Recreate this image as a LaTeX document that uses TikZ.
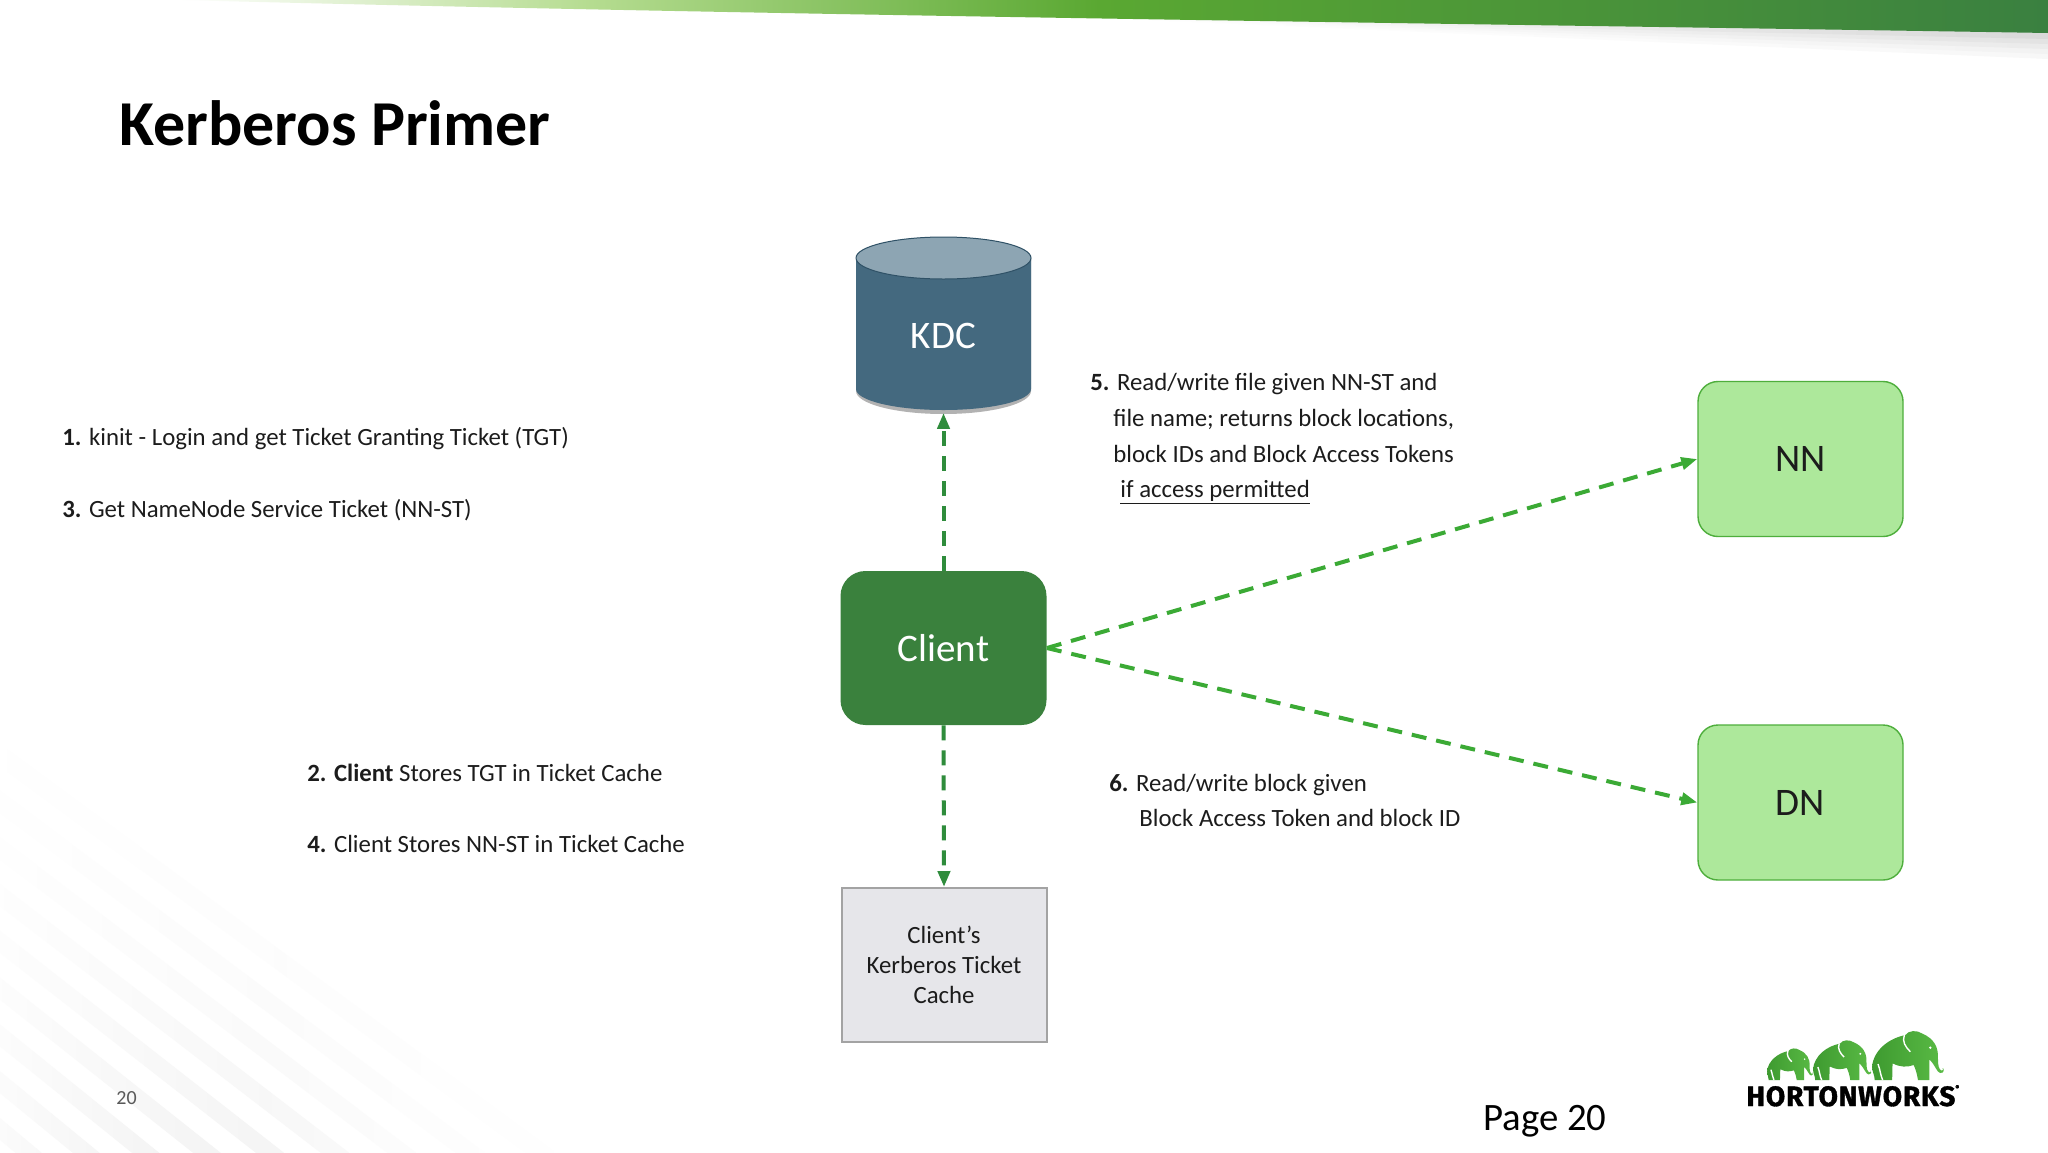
\documentclass[tikz,border=0pt]{standalone}
\usepackage{fontspec}
\setmainfont{Carlito}
\newfontfamily\logofont{Fira Sans}[BoldFeatures={LetterSpace=3.0,FakeBold=1.2}]
\usetikzlibrary{arrows.meta}

\definecolor{txt}{HTML}{1C1C1C}
\definecolor{clientgreen}{HTML}{3A813D}
\definecolor{nodegreen}{HTML}{ADE89B}
\definecolor{nodeedge}{HTML}{4EAE3C}
\definecolor{arrowdark}{HTML}{2F8C3C}
\definecolor{arrowlight}{HTML}{3BAA35}
\definecolor{kdcbody}{HTML}{44697F}
\definecolor{kdctop}{HTML}{8DA5B3}
\definecolor{kdcline}{HTML}{2F5166}
\definecolor{cachefill}{HTML}{E6E6EA}
\definecolor{cacheedge}{HTML}{A3A3A3}
\definecolor{elephantdark}{HTML}{3E9A30}
\definecolor{elephantlight}{HTML}{5ABB45}
\definecolor{bannera}{HTML}{B5DC90}
\definecolor{bannerb}{HTML}{5AA832}
\definecolor{bannerc}{HTML}{3A8040}

\pgfdeclarehorizontalshading{banner}{100bp}{
  color(0bp)=(white); color(25bp)=(white);
  color(36bp)=(bannera);
  color(49.6bp)=(bannerb);
  color(75bp)=(bannerc); color(100bp)=(bannerc)}

\newcommand{\low}[1]{\raisebox{-0.6pt}{#1}}

\tikzset{
  px/.style={x=0.5pt,y=-0.5pt},
  para/.style={anchor=base west,inner sep=0pt,text=txt,font=\fontsize{12.4}{15}\selectfont},
  big/.style={font=\fontsize{19.5}{23}\selectfont},
  server/.style={rectangle,rounded corners=10pt,draw=nodeedge,line width=0.7pt,fill=nodegreen,text=txt,big,
    minimum width=102.5pt,minimum height=77.5pt,inner sep=0pt},
  link/.style={line width=2pt,dash pattern=on 7.5pt off 5pt,-{Triangle[length=8pt,width=6pt]}},
  elephant/.pic={
    \shade[left color=elephantdark,right color=elephantlight] (8,0) .. controls (8,-15) and (0,-25) .. (0,-40)
      .. controls (5,-90) and (50,-125) .. (100,-135)
      .. controls (110,-150) and (135,-150) .. (150,-140)
      .. controls (185,-125) and (200,-100) .. (198,-65)
      .. controls (198,-45) and (200,-30) .. (210,-28)
      .. controls (214,-28) and (214,-33) .. (212,-36)
      .. controls (218,-34) and (217,-20) .. (205,-21)
      .. controls (195,-22) and (190,-45) .. (172,-62)
      -- (172,0) -- (138,0)
      .. controls (135,-20) and (130,-35) .. (125,-45)
      .. controls (105,-38) and (85,-38) .. (62,-50)
      .. controls (60,-30) and (62,-15) .. (60,0) -- cycle;
    \draw[white,line width=0.7pt] (97,-135) .. controls (90,-115) and (100,-100) .. (115,-85);
    \draw[white,line width=0.7pt] (18,-48) .. controls (25,-30) and (25,-15) .. (32,0);
    \fill[white] (175,-97) circle (4);
  }
}

\begin{document}
\begin{tikzpicture}[px]
  \useasboundingbox (0,0) rectangle (2048,1152);
  \fill[white] (0,0) rectangle (2048,1152);

  % faint stripes, bottom left
  \begin{scope}
    \clip (0,0) rectangle (2048,1152);
    \foreach \i/\c in {0/1,1/1.5,2/2,3/3,4/4,5/5,6/6,7/7,8/8} {
      \shade[shading angle=-38,left color=white,right color=white,middle color=black!\c]
        (-60,700+\i*46) -- (620-\i*10,1200+\i*46) -- (620-\i*10,1222+\i*46) -- (-60,722+\i*46) -- cycle;
    }
  \end{scope}

  % banner and its shadow
  \foreach \h/\c in {26/3,21/5,16/8,11/11,6/15} {
    \shade[left color=white,right color=black!\c] (1100,17) -- (2048,32) -- (2048,33+\h) -- (1100,18) -- cycle;
  }
  \shade[shading=banner] (180,0) -- (2048,0) -- (2048,33) .. controls (1500,24) and (800,16) .. (180,0) -- cycle;

  % title
  \node[anchor=base west,inner sep=0pt,text=black,font=\fontsize{32}{38}\selectfont\bfseries] (title) at (119,145) {Kerberos Primer};

  % KDC cylinder
  \fill[black!30] (856,260) -- (856,391) arc[start angle=180,end angle=0,x radius=87.5,y radius=23] -- (1031,260) -- cycle;
  \fill[kdcbody] (856,258) -- (856,389) arc[start angle=180,end angle=0,x radius=87.5,y radius=21] -- (1031,258) -- cycle;
  \draw[kdcline,line width=0.5pt,fill=kdctop] (943.5,258) ellipse[x radius=87.5,y radius=21];
  \node[rectangle,inner sep=0pt,minimum width=87.5pt,minimum height=86.5pt] (kdc) at (943.5,324) {};
  \node[inner sep=0pt,text=white,big] (kdclabel) at (943.5,336) {KDC};

  % boxes
  \node[rectangle,rounded corners=12.5pt,fill=clientgreen,text=white,big,inner sep=0pt,
    minimum width=103pt,minimum height=77pt] (client) at (943.5,648) {\low{Client}};
  \node[server] (nn) at (1800.5,459) {\low{NN}};
  \node[server] (dn) at (1800.5,802.5) {\low{DN}};
  \node[rectangle,draw=cacheedge,line width=1pt,fill=cachefill,text=txt,align=center,inner sep=0pt,
    font=\fontsize{12.4}{15}\selectfont,minimum width=102.5pt,minimum height=77pt] (cache) at (944,965) {\low{Client’s}\\\low{Kerberos Ticket}\\\low{Cache}};

  % connectors
  \draw[link,arrowdark,shorten >=1pt] (client.north) -- (kdc.south);
  \draw[link,arrowdark] (client.south) -- (cache.north);
  \draw[link,arrowlight] (client.east) -- (nn.west);
  \draw[link,arrowlight] (client.east) -- (dn.west);

  % left notes
  \node[para] (t1) at (62,445) {\textbf{1.} kinit - Login and get Ticket Granting Ticket (TGT)};
  \node[para] (t3) at (62,517) {\textbf{3.} Get NameNode Service Ticket (NN-ST)};
  \node[para] (t2) at (307,781) {\textbf{2. Client} Stores TGT in Ticket Cache};
  \node[para] (t4) at (307,852) {\textbf{4.} Client Stores NN-ST in Ticket Cache};

  % right notes
  \node[para] (t5a) at (1090,390) {\textbf{5.} Read/write file given NN-ST and};
  \node[para] (t5b) at (1113,426) {file name; returns block locations,};
  \node[para] (t5c) at (1113,462) {block IDs and Block Access Tokens};
  \node[para] (t5d) at (1120,497) {\underline{if access permitted}};
  \node[para] (t6a) at (1109,791) {\textbf{6.} Read/write block given};
  \node[para] (t6b) at (1139,826) {Block Access Token and block ID};

  % footer
  \node[anchor=base west,inner sep=0pt,text=black!65,font=\fontsize{10}{12}\selectfont] (pageno) at (116,1104) {20};
  \node[anchor=base west,inner sep=0pt,text=black,font=\fontsize{19.4}{23}\selectfont] (page) at (1483,1130) {Page 20};

  % logo
  \pic[scale=0.215] at (1767,1080) {elephant};
  \pic[scale=0.27] at (1813,1080) {elephant};
  \pic[scale=0.333] at (1872,1080) {elephant};
  \node[anchor=base west,inner sep=0pt,text=black,font=\logofont\bfseries\fontsize{14}{16}\selectfont] (logo) at (1746,1106) {HORTONWORKS\raisebox{1.1ex}{\fontsize{3}{3}\selectfont ®}};
\end{tikzpicture}
\end{document}
